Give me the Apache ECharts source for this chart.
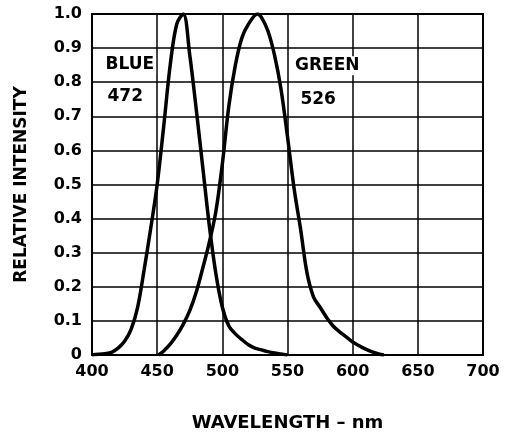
<!DOCTYPE html>
<html>
<head>
<meta charset="utf-8">
<script src="https://cdn.jsdelivr.net/npm/echarts@6/dist/echarts.min.js"></script>
<style>
  html, body { margin: 0; padding: 0; background: #fff; }
  #chart { width: 508px; height: 437px; }
</style>
</head>
<body>
<div id="chart"></div>
<script>
// wavelength (nm) and relative intensity
const blueNm = [400, 405, 410, 415, 420, 425, 430, 435, 440, 445, 450, 455, 460, 465, 470, 475, 480, 485, 490, 495, 500, 505, 510, 515, 520, 525, 530, 535, 540, 545, 550];
const blueVal = [0.001, 0.002, 0.004, 0.008, 0.02, 0.04, 0.075, 0.14, 0.25, 0.37, 0.5, 0.67, 0.85, 0.97, 1.0, 0.88, 0.72, 0.55, 0.38, 0.24, 0.14, 0.085, 0.062, 0.045, 0.03, 0.02, 0.015, 0.01, 0.006, 0.003, 0];

const greenNm = [451, 455, 460, 465, 470, 475, 480, 485, 490, 495, 500, 505, 510, 515, 520, 527, 530, 535, 540, 545, 550, 555, 560, 565, 570, 575, 580, 585, 590, 595, 600, 605, 610, 615, 620, 624];
const greenVal = [0, 0.012, 0.032, 0.058, 0.09, 0.13, 0.185, 0.255, 0.33, 0.42, 0.56, 0.73, 0.85, 0.93, 0.97, 1.0, 0.99, 0.95, 0.88, 0.78, 0.64, 0.49, 0.37, 0.24, 0.17, 0.14, 0.11, 0.085, 0.068, 0.053, 0.038, 0.027, 0.017, 0.009, 0.003, 0];

const noteText = ['BLUE', '472', 'GREEN', '526'];
const noteNm = [429, 425.5, 580.5, 573.5];
const noteVal = [0.853, 0.757, 0.848, 0.75];

const font = 'DejaVu Sans';

const zip = (xs, ys) => xs.map((x, i) => [x, ys[i]]);

const curve = (name, data) => ({
  name: name,
  type: 'line',
  data: data,
  smooth: 0.35,
  symbol: 'none',
  lineStyle: { color: '#000', width: 3.5 },
  z: 3,
});

const chart = echarts.init(document.getElementById('chart'));
chart.setOption({
  animation: false,
  grid: {
    left: 92, right: 25, top: 14, bottom: 78,
    show: true, borderColor: '#000', borderWidth: 2,
  },
  xAxis: {
    type: 'value',
    min: 400, max: 700, interval: 50,
    name: 'WAVELENGTH \u2013 nm',
    nameLocation: 'middle',
    nameGap: 59,
    nameTextStyle: { fontFamily: font, fontWeight: 'bold', fontSize: 18, color: '#000' },
    axisLine: { lineStyle: { color: '#000', width: 2 } },
    axisTick: { show: false },
    axisLabel: { fontFamily: font, fontWeight: 'bold', fontSize: 16, color: '#000', margin: 9 },
    splitLine: { lineStyle: { color: '#000', width: 1.5 } },
  },
  yAxis: {
    type: 'value',
    min: 0, max: 1, interval: 0.1,
    name: 'RELATIVE INTENSITY',
    nameLocation: 'middle',
    nameGap: 62,
    nameTextStyle: { fontFamily: font, fontWeight: 'bold', fontSize: 17, color: '#000' },
    axisLine: { lineStyle: { color: '#000', width: 2 } },
    axisTick: { show: false },
    axisLabel: {
      fontFamily: font, fontWeight: 'bold', fontSize: 16, color: '#000', margin: 10,
      formatter: v => (v === 0 ? '0' : v.toFixed(1)),
    },
    splitLine: { lineStyle: { color: '#000', width: 1.5 } },
  },
  series: [
    curve('Blue', zip(blueNm, blueVal)),
    curve('Green', zip(greenNm, greenVal)),
    {
      type: 'scatter',
      symbolSize: 0,
      silent: true,
      z: 4,
      itemStyle: { opacity: 1 },
      data: noteText.map((t, i) => ({ value: [noteNm[i], noteVal[i]], name: t })),
      label: {
        show: true,
        position: 'inside',
        formatter: p => p.name,
        fontFamily: font, fontWeight: 'bold', fontSize: 17, color: '#000',
        textBorderWidth: 0,
        backgroundColor: '#fff',
        padding: [1, 2],
      },
    },
  ],
});
</script>
</body>
</html>
